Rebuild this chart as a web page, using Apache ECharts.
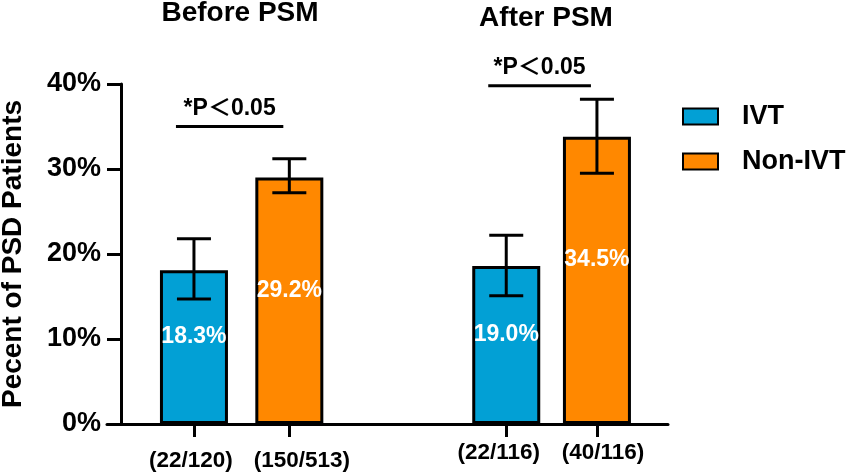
<!DOCTYPE html>
<html>
<head>
<meta charset="utf-8">
<script src="https://cdn.jsdelivr.net/npm/echarts@6/dist/echarts.min.js"></script>
<style>
html,body{margin:0;padding:0;background:#fff;}
#chart{width:851px;height:474px;}
</style>
</head>
<body>
<div id="chart"></div>
<script>
// ---- data ----
const groupTitles = ['Before PSM', 'After PSM'];
const categories = ['(22/120)', '(150/513)', '(22/116)', '(40/116)'];
const categoryPositions = [0.93, 1.95, 4.27, 5.24];   // x-axis coordinate of each bar
const seriesNames = ['IVT', 'Non-IVT'];
const ivtValues = [18.1, 18.6];
const nonIvtValues = [29.0, 33.8];
const ivtLabels = ['18.3%', '19.0%'];
const nonIvtLabels = ['29.2%', '34.5%'];
const ivtErrors = [[14.7, 21.8], [15.1, 22.2]];
const nonIvtErrors = [[27.2, 31.2], [29.5, 38.2]];
const sigText = '*P\uFF1C0.05';
const sigLevels = [35.0, 39.8];

// ---- chart ----
const FONT = '"Liberation Sans", Arial, Helvetica, "Noto Sans CJK SC", sans-serif';
const BLUE = '#02A0D5';
const ORANGE = '#FF8800';
const ivtX = [categoryPositions[0], categoryPositions[2]];
const nonX = [categoryPositions[1], categoryPositions[3]];

// label box paddings (layout tweaks for the category labels)
const labelPads = [[8, 6, 0, 0], [8, 0, 0, 25], [0, 15, 0, 0], [0, 0, 0, 12]];
const rich = {};
labelPads.forEach((p, i) => {
  rich['c' + i] = { fontSize: 22.5, fontWeight: 'bold', color: '#000', fontFamily: FONT, padding: p };
});

const chart = echarts.init(document.getElementById('chart'));

function barData(xs, vals, labels, offs) {
  return xs.map((x, i) => ({
    value: [x, vals[i]],
    label: { formatter: labels[i], offset: [0, offs[i]] }
  }));
}

const errData = [];
ivtX.forEach((x, i) => errData.push([x, ivtErrors[i][0], ivtErrors[i][1]]));
nonX.forEach((x, i) => errData.push([x, nonIvtErrors[i][0], nonIvtErrors[i][1]]));

const sigData = [0, 1].map(g => [ivtX[g], nonX[g], sigLevels[g]]);

const option = {
  animation: false,
  textStyle: { fontFamily: FONT },
  grid: { left: 107, right: 183, top: 84, bottom: 50, containLabel: false, outerBoundsMode: 'none' },
  graphic: [
    { type: 'text', x: 240, y: 13, style: { text: groupTitles[0], font: 'bold 28px ' + FONT, fill: '#000', textAlign: 'center', textVerticalAlign: 'middle' } },
    { type: 'text', x: 546, y: 18, style: { text: groupTitles[1], font: 'bold 28px ' + FONT, fill: '#000', textAlign: 'center', textVerticalAlign: 'middle' } }
  ],
  legend: {
    orient: 'vertical',
    left: 677,
    top: 98,
    itemWidth: 35,
    itemHeight: 16,
    itemGap: 18,
    icon: 'rect',
    data: seriesNames,
    textStyle: { fontSize: 27, fontWeight: 'bold', color: '#000', fontFamily: FONT, lineHeight: 27, padding: [0, 0, 0, 19] }
  },
  xAxis: {
    type: 'value',
    min: 0,
    max: 6,
    splitLine: { show: false },
    axisLine: { show: true, lineStyle: { color: '#000', width: 3 } },
    axisTick: { show: true, customValues: categoryPositions, length: 13, lineStyle: { color: '#000', width: 3 } },
    axisLabel: {
      customValues: categoryPositions,
      formatter: v => {
        const i = categoryPositions.findIndex(p => Math.abs(p - v) < 1e-6);
        return i >= 0 ? '{c' + i + '|' + categories[i] + '}' : '';
      },
      rich: rich,
      fontSize: 22.5, fontWeight: 'bold', color: '#000', margin: 18, fontFamily: FONT
    }
  },
  yAxis: {
    type: 'value',
    min: 0,
    max: 40,
    interval: 10,
    offset: -14,
    name: 'Pecent of PSD Patients',
    nameLocation: 'middle',
    nameGap: 94,
    nameRotate: 90,
    nameTextStyle: { fontSize: 28, fontWeight: 'bold', color: '#000', fontFamily: FONT },
    splitLine: { show: false },
    axisLine: { show: true, lineStyle: { color: '#000', width: 3 } },
    axisTick: { show: true, length: 14, lineStyle: { color: '#000', width: 3 } },
    axisLabel: { formatter: '{value}%', fontSize: 27, fontWeight: 'bold', color: '#000', margin: 20, fontFamily: FONT }
  },
  series: [
    {
      name: seriesNames[0],
      type: 'bar',
      barWidth: 68,
      barGap: '-100%',
      itemStyle: { color: BLUE, borderColor: '#000', borderWidth: 3 },
      label: { show: true, position: 'inside', color: '#fff', fontSize: 23, fontWeight: 'bold', fontFamily: FONT },
      data: barData(ivtX, ivtValues, ivtLabels, [-10, -10]),
      z: 2
    },
    {
      name: seriesNames[1],
      type: 'bar',
      barWidth: 68,
      barGap: '-100%',
      itemStyle: { color: ORANGE, borderColor: '#000', borderWidth: 3 },
      label: { show: true, position: 'inside', color: '#fff', fontSize: 23, fontWeight: 'bold', fontFamily: FONT },
      data: barData(nonX, nonIvtValues, nonIvtLabels, [-10, -21]),
      z: 2
    },
    {
      type: 'custom',
      name: 'err',
      z: 5,
      encode: { x: 0, y: [1, 2] },
      renderItem: (params, api) => {
        const x = api.value(0);
        const lo = api.coord([x, api.value(1)]);
        const hi = api.coord([x, api.value(2)]);
        const hw = 17;
        const st = { stroke: '#000', lineWidth: 3 };
        return {
          type: 'group',
          children: [
            { type: 'line', shape: { x1: lo[0], y1: lo[1], x2: hi[0], y2: hi[1] }, style: st },
            { type: 'line', shape: { x1: lo[0] - hw, y1: lo[1], x2: lo[0] + hw, y2: lo[1] }, style: st },
            { type: 'line', shape: { x1: hi[0] - hw, y1: hi[1], x2: hi[0] + hw, y2: hi[1] }, style: st }
          ]
        };
      },
      data: errData
    },
    {
      type: 'custom',
      name: 'sig',
      z: 5,
      encode: { x: [0, 1], y: 2 },
      renderItem: (params, api) => {
        const a = api.coord([api.value(0), api.value(2)]);
        const b = api.coord([api.value(1), api.value(2)]);
        const x1 = a[0] - 18, x2 = b[0] - 6;
        return {
          type: 'group',
          children: [
            { type: 'line', shape: { x1: x1, y1: a[1], x2: x2, y2: a[1] }, style: { stroke: '#000', lineWidth: 3 } },
            { type: 'text', x: (x1 + x2) / 2, y: a[1] - 18, style: { text: sigText, font: 'bold 23px ' + FONT, fill: '#000', textAlign: 'center', textVerticalAlign: 'middle' } }
          ]
        };
      },
      data: sigData
    }
  ]
};
chart.setOption(option);
</script>
</body>
</html>
